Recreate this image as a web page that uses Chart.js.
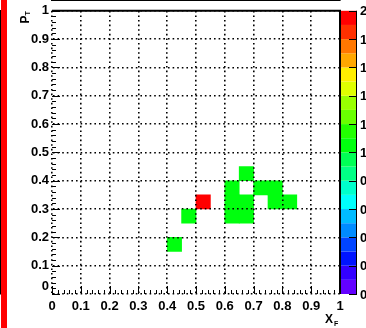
<!DOCTYPE html>
<html>
<head>
<meta charset="utf-8">
<script src="https://cdn.jsdelivr.net/npm/chart.js@4.4.1/dist/chart.umd.min.js"></script>
<style>
  html, body { margin: 0; padding: 0; background: #fff; overflow: hidden; }
  canvas { display: block; }
</style>
</head>
<body>
<canvas id="hist" width="366" height="328"></canvas>
<script>
/* ---------- DATA ---------- */
// filled bins of the 20x20 histogram: low edges in xF and pT, entries per bin
const binWidth = 0.05;
const cellXF = [0.40, 0.45, 0.50, 0.60, 0.60, 0.60, 0.65, 0.65, 0.65, 0.70, 0.75, 0.75, 0.80];
const cellPT = [0.15, 0.25, 0.30, 0.25, 0.30, 0.35, 0.25, 0.30, 0.40, 0.35, 0.35, 0.30, 0.30];
const cellCount = [1, 1, 2, 1, 1, 1, 1, 1, 1, 1, 1, 1, 1];

const axisTicks = [0, 0.1, 0.2, 0.3, 0.4, 0.5, 0.6, 0.7, 0.8, 0.9, 1];
const axisLabels = ["0", "0.1", "0.2", "0.3", "0.4", "0.5", "0.6", "0.7", "0.8", "0.9", "1"];
const zTicks = [0, 0.2, 0.4, 0.6, 0.8, 1, 1.2, 1.4, 1.6, 1.8, 2];
const zLabels = ["0", "0.2", "0.4", "0.6", "0.8", "1", "1.2", "1.4", "1.6", "1.8", "2"];
const zMin = 0;
const zMax = 2;

/* ---------- STYLE ---------- */
// ROOT "pretty" palette, 20 contour levels, violet -> red
const paletteHue = [263.2, 252, 235.2, 224, 207.2, 196, 179.2, 168, 151.2, 140,
                    123.2, 112, 95.2, 84, 67.2, 56, 39.2, 28, 11.2, 0];
const nLevels = paletteHue.length;
const FONT = "'Liberation Sans', Arial, Helvetica, sans-serif";

function levelOf(v) {
  return Math.min(nLevels - 1, Math.floor((v - zMin) / (zMax - zMin) * nLevels + 0.01));
}
function levelColor(k) {
  return "hsl(" + paletteHue[k] + ", 100%, 50%)";
}

/* ---------- ROOT-LIKE DECORATION ---------- */
const rootFrame = {
  id: "rootFrame",
  afterDraw(chart) {
    const { ctx, chartArea: a } = chart;
    const x = chart.scales.x, y = chart.scales.y, z = chart.scales.z;
    ctx.save();
    ctx.strokeStyle = "#000";

    // ticks pointing into the frame, 5 subdivisions
    ctx.lineWidth = 1;
    ctx.beginPath();
    for (let i = 0; i <= 50; i++) {
      const v = i / 50;
      const len = i % 5 === 0 ? 8 : 4;
      const px = Math.round(x.getPixelForValue(v)) + 0.5;
      ctx.moveTo(px, a.bottom);
      ctx.lineTo(px, a.bottom - len);
      const py = Math.round(y.getPixelForValue(v)) + 0.5;
      ctx.moveTo(a.left, py);
      ctx.lineTo(a.left + len, py);
    }
    ctx.stroke();

    // top and right frame lines
    ctx.lineWidth = 2;
    ctx.beginPath();
    ctx.moveTo(a.left, a.top);
    ctx.lineTo(a.right, a.top);
    ctx.lineTo(a.right, a.bottom);
    ctx.stroke();

    // colour bar
    const cx0 = a.right + 1, cx1 = a.right + 17;
    for (let k = 0; k < nLevels; k++) {
      const zLo = zMin + (zMax - zMin) * k / nLevels;
      const zHi = zMin + (zMax - zMin) * (k + 1) / nLevels;
      const yTop = z.getPixelForValue(zHi), yBot = z.getPixelForValue(zLo);
      ctx.fillStyle = levelColor(k);
      ctx.fillRect(cx0, yTop, cx1 - cx0, yBot - yTop);
    }
    ctx.lineWidth = 1;
    ctx.beginPath();
    ctx.moveTo(cx1 - 0.5, z.getPixelForValue(zMax));
    ctx.lineTo(cx1 - 0.5, z.getPixelForValue(zMin));
    zTicks.forEach(t => {
      const py = Math.round(z.getPixelForValue(t)) + 0.5;
      ctx.moveTo(cx1, py);
      ctx.lineTo(cx1 - 8, py);
    });
    ctx.stroke();
    ctx.fillStyle = "#000";
    ctx.font = "bold 13px " + FONT;
    ctx.textAlign = "left";
    ctx.textBaseline = "middle";
    zTicks.forEach((t, i) => {
      ctx.fillText(zLabels[i], cx1 + 3, z.getPixelForValue(t) + 1);
    });

    // y label at the origin sits a little higher in ROOT
    ctx.textAlign = "right";
    ctx.fillText(axisLabels[0], a.left - 3, y.getPixelForValue(axisTicks[0]) - 7.5);

    // axis titles
    ctx.textAlign = "left";
    ctx.textBaseline = "alphabetic";
    ctx.font = "bold 12px " + FONT;
    ctx.fillText("X", 325, 323);
    ctx.font = "bold 7px " + FONT;
    ctx.fillText("F", 334, 325.5);

    ctx.save();
    ctx.translate(29, 23.5);
    ctx.rotate(-Math.PI / 2);
    ctx.font = "bold 12px " + FONT;
    ctx.fillText("P", 0, 0);
    ctx.font = "bold 7px " + FONT;
    ctx.fillText("T", 8, 0.5);
    ctx.restore();

    // selected pad border
    ctx.fillStyle = "#ff0000";
    ctx.fillRect(1, 0, 6, chart.height);
    ctx.restore();
  }
};

/* ---------- CHART ---------- */
const cells = cellXF.map((xLo, i) => ({ x: xLo + binWidth / 2, y: [cellPT[i], cellPT[i] + binWidth] }));

function axisOptions(pos) {
  return {
    type: "linear",
    position: pos,
    min: 0,
    max: 1,
    offset: false,
    afterBuildTicks: s => { s.ticks = axisTicks.map(v => ({ value: v })); },
    grid: { color: "#000", lineWidth: 1.6, drawTicks: false, offset: false, z: 1 },
    border: { display: true, color: "#000", width: 2, dash: [1.6, 3] },
    ticks: {
      autoSkip: false,
      maxRotation: 0,
      color: "#000",
      font: { family: FONT, weight: "bold", size: 13 },
      callback: (v, i) => (pos === "left" && i === 0) ? "" : axisLabels[i]
    }
  };
}

const xOpts = axisOptions("bottom");
xOpts.ticks.padding = 5;
xOpts.afterFit = s => { s.height = 34; };
const yOpts = axisOptions("left");
yOpts.ticks.padding = 3;
yOpts.afterFit = s => { s.width = 52; };

new Chart(document.getElementById("hist"), {
  type: "bar",
  data: {
    datasets: [{
      data: cells,
      backgroundColor: cellCount.map(c => levelColor(levelOf(c))),
      borderWidth: 0,
      categoryPercentage: 1,
      barPercentage: 1,
      grouped: false
    }]
  },
  options: {
    responsive: false,
    animation: false,
    layout: { padding: { top: 10, right: 26, left: 0, bottom: 0 } },
    plugins: { legend: { display: false }, tooltip: { enabled: false } },
    scales: {
      x: xOpts,
      y: yOpts,
      z: { type: "linear", axis: "y", position: "right", display: false, min: zMin, max: zMax }
    }
  },
  plugins: [rootFrame]
});
</script>
</body>
</html>
